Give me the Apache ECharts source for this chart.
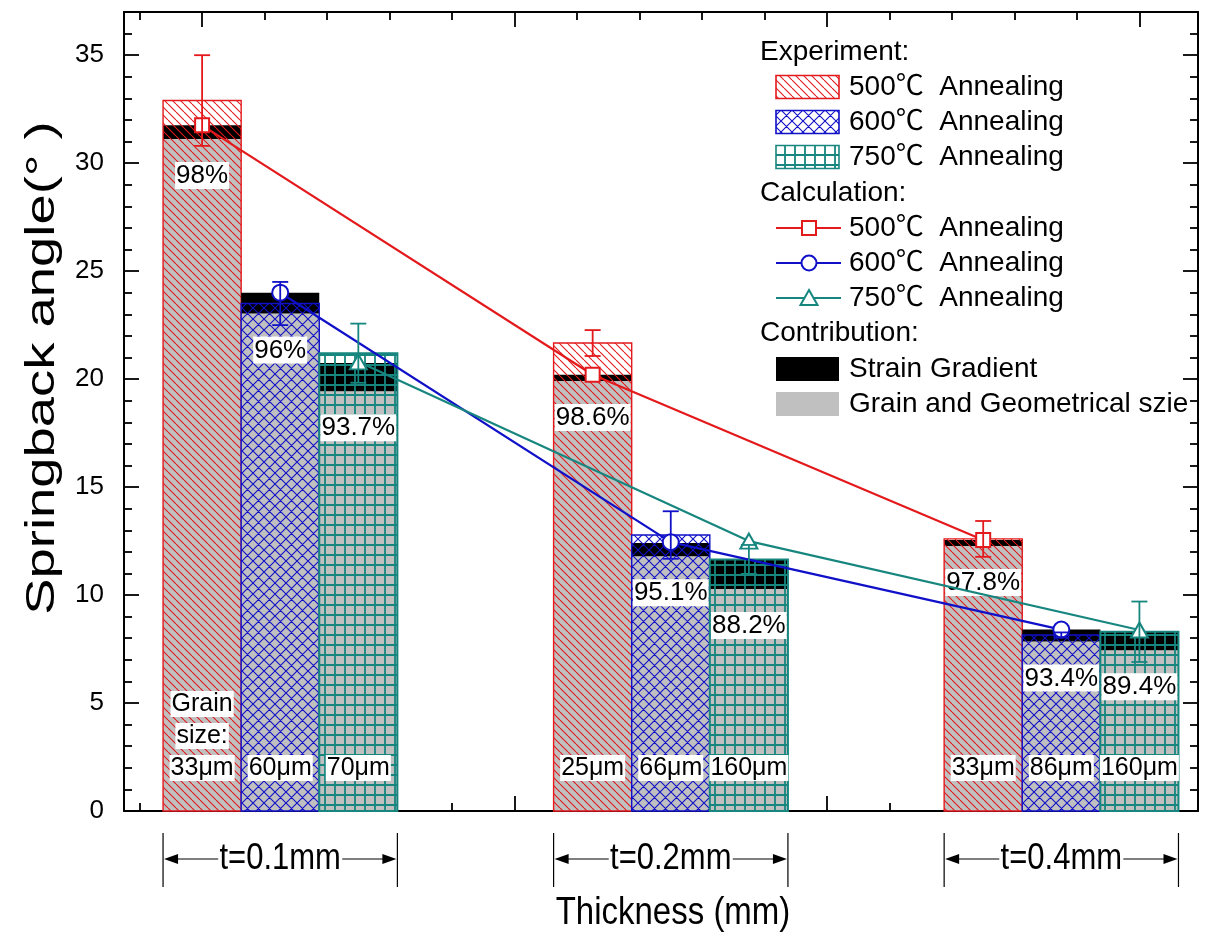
<!DOCTYPE html>
<html>
<head>
<meta charset="utf-8">
<script src="https://cdn.jsdelivr.net/npm/echarts@6/dist/echarts.min.js"></script>
<style>
  html, body { margin: 0; padding: 0; background: #fff; }
  #chart { width: 1205px; height: 939px; }
</style>
</head>
<body>
<div id="chart"></div>
<script>
// --- data ---
var temps = ['500', '600', '750'];
var thickness = ['t=0.1mm', 't=0.2mm', 't=0.4mm'];
var groupX = [1, 6, 11];                       // centre of each thickness group (x units = bar widths)
var barX = { '500': [0, 5, 10], '600': [1, 6, 11], '750': [2, 7, 12] };

// experiment: mean and error
var expMean = { '500': [32.9, 21.67, 12.6], '600': [23.5, 12.78, 8.15], '750': [21.2, 11.65, 8.3] };
var expErr  = { '500': [2.1, 0.6, 0.83],    '600': [1.0, 1.1, 0.12],    '750': [1.37, 0.67, 1.4] };
// calculated total (top of black part) and share of grain/geometrical size
var calcTotal = { '500': [31.75, 20.2, 12.55], '600': [24.0, 12.41, 8.4], '750': [20.75, 11.65, 8.33] };
var grainShare = { '500': [98, 98.6, 97.8], '600': [96, 95.1, 93.4], '750': [93.7, 88.2, 89.4] };
// calculation curves (markers)
var calcLine = { '500': [31.75, 20.2, 12.55], '600': [24.0, 12.45, 8.4], '750': [20.8, 12.5, 8.38] };
var grainSize = { '500': ['33μm', '25μm', '33μm'], '600': ['60μm', '66μm', '86μm'], '750': ['70μm', '160μm', '160μm'] };

var yTickLabels = [0, 5, 10, 15, 20, 25, 30, 35];

var colors = { '500': '#e3191c', '600': '#1010c8', '750': '#17867f' };
var hatchKind = { '500': 'diag', '600': 'cross', '750': 'grid' };
var symbols = { '500': 'rect', '600': 'circle', '750': 'triangle' };
var symbolSizes = { '500': 14, '600': 16, '750': [17, 15] };

var FONT = "'Liberation Sans', Arial, 'Noto Sans CJK SC', sans-serif";

function makeHatch(kind, color) {
  var s = kind === 'diag' ? 8 : kind === 'cross' ? 11 : 10;
  var c = document.createElement('canvas');
  c.width = s; c.height = s;
  var g = c.getContext('2d');
  g.strokeStyle = color;
  g.lineWidth = kind === 'grid' ? 1.8 : 1.1;
  g.beginPath();
  if (kind === 'grid') {
    g.moveTo(s / 2, 0); g.lineTo(s / 2, s);
    g.moveTo(0, s / 2); g.lineTo(s, s / 2);
  } else {
    for (var k = -1; k <= 1; k++) {
      g.moveTo(k * s, 0); g.lineTo(k * s + s, s);
      if (kind === 'cross') { g.moveTo(k * s, s); g.lineTo(k * s + s, 0); }
    }
  }
  g.stroke();
  return { image: c, repeat: 'repeat' };
}
var patterns = {};
temps.forEach(function (t) { patterns[t] = makeHatch(hatchKind[t], colors[t]); });

function rangeTicks(from, to, step, skip) {
  var out = [];
  for (var i = 0; from + i * step <= to + 1e-9; i++) {
    var v = +(from + i * step).toFixed(4);
    if (skip.indexOf(v) < 0) out.push(v);
  }
  return out;
}
var xMajor = [0, 4, 8, 12];
var xMinor = rangeTicks(-0.8, 12.75, 0.8, xMajor);
var yMinor = rangeTicks(1, 36, 1, yTickLabels);

var chart = echarts.init(document.getElementById('chart'));

function xAxisDef(pos, ticks, len, withLine) {
  return {
    type: 'value', position: pos, min: -1, max: 12.75,
    axisLine: { show: withLine, onZero: false, lineStyle: { color: '#000', width: 2 } },
    axisTick: { show: true, inside: true, length: len, customValues: ticks, lineStyle: { color: '#000', width: 1.8 } },
    axisLabel: { show: false },
    splitLine: { show: false }
  };
}
function yAxisDef(pos, ticks, len, withLine, extra) {
  var a = {
    type: 'value', position: pos, min: 0, max: 37,
    axisLine: { show: withLine, onZero: false, lineStyle: { color: '#000', width: 2 } },
    axisTick: { show: true, inside: true, length: len, customValues: ticks, lineStyle: { color: '#000', width: 1.8 } },
    axisLabel: { show: false },
    splitLine: { show: false }
  };
  return Object.assign(a, extra || {});
}

function barItem(t) {
  return function (params, api) {
    var x = api.value(0), exp = api.value(1), calc = api.value(2), share = api.value(3);
    var grain = calc * share / 100;
    var left = api.coord([x - 0.5, 0]);
    var w = api.coord([x + 0.5, 0])[0] - left[0];
    var y0 = left[1];
    var yExp = api.coord([x, exp])[1];
    var yCalc = api.coord([x, calc])[1];
    var yGrain = api.coord([x, grain])[1];
    var cx = left[0] + w / 2;
    var i = params.dataIndex;
    var lw = t === '750' ? 2 : 1.4;
    var sizeText = (t === '500' && i === 0) ? '{a|Grain}\n{a|size:}\n{a|' + grainSize[t][i] + '}' : '{a|' + grainSize[t][i] + '}';
    return {
      type: 'group',
      children: [
        { type: 'rect', shape: { x: left[0], y: yExp, width: w, height: y0 - yExp }, style: { fill: '#fff' } },
        { type: 'rect', shape: { x: left[0], y: yGrain, width: w, height: y0 - yGrain }, style: { fill: '#c0c0c0' } },
        { type: 'rect', shape: { x: left[0], y: yCalc, width: w, height: yGrain - yCalc }, style: { fill: '#000' } },
        { type: 'rect', shape: { x: left[0], y: yExp, width: w, height: y0 - yExp },
          style: { fill: patterns[t], stroke: colors[t], lineWidth: lw } },
        { type: 'text', x: cx, y: yGrain + 23,
          style: { text: share + '%', font: '26px ' + FONT, fill: '#000', align: 'center', verticalAlign: 'top',
                   backgroundColor: '#fff', padding: [1, 1, 0, 1] } },
        { type: 'text', x: cx, y: y0 - 27,
          style: { text: sizeText, fill: '#000', align: 'center', verticalAlign: 'bottom',
                   rich: { a: { font: '25px ' + FONT, backgroundColor: '#fff', padding: [1, 1, 0, 1], lineHeight: 32 } } } }
      ]
    };
  };
}

function errItem(t) {
  return function (params, api) {
    var x = api.value(0), m = api.value(1), e = api.value(2);
    var hi = api.coord([x, m + e]), lo = api.coord([x, m - e]);
    var st = { stroke: colors[t], lineWidth: 1.8 };
    return {
      type: 'group',
      children: [
        { type: 'line', shape: { x1: hi[0], y1: hi[1], x2: lo[0], y2: lo[1] }, style: st },
        { type: 'line', shape: { x1: hi[0] - 8, y1: hi[1], x2: hi[0] + 8, y2: hi[1] }, style: st },
        { type: 'line', shape: { x1: lo[0] - 8, y1: lo[1], x2: lo[0] + 8, y2: lo[1] }, style: st }
      ]
    };
  };
}

function thickItem(params, api) {
  var cx = api.value(0);
  var l = api.coord([cx - 1.5, 0]), r = api.coord([cx + 1.5, 0]);
  var base = l[1];
  var ym = base + 48;
  var c = (l[0] + r[0]) / 2;
  var half = 62;
  var st = { stroke: '#000', lineWidth: 1.2 };
  return {
    type: 'group',
    children: [
      { type: 'line', shape: { x1: l[0], y1: base + 22, x2: l[0], y2: base + 76 }, style: st },
      { type: 'line', shape: { x1: r[0], y1: base + 22, x2: r[0], y2: base + 76 }, style: st },
      { type: 'line', shape: { x1: l[0] + 12, y1: ym, x2: c - half, y2: ym }, style: st },
      { type: 'line', shape: { x1: c + half, y1: ym, x2: r[0] - 12, y2: ym }, style: st },
      { type: 'polygon', shape: { points: [[l[0] + 1, ym], [l[0] + 15, ym - 5], [l[0] + 15, ym + 5]] }, style: { fill: '#000' } },
      { type: 'polygon', shape: { points: [[r[0] - 1, ym], [r[0] - 15, ym - 5], [r[0] - 15, ym + 5]] }, style: { fill: '#000' } },
      { type: 'text', x: c, y: ym, scaleY: 1.2,
        style: { text: thickness[params.dataIndex], font: '31px ' + FONT, fill: '#000', align: 'center', verticalAlign: 'middle' } }
    ]
  };
}

var series = [];
temps.forEach(function (t) {
  series.push({
    name: t + ' exp', type: 'custom', z: 2, renderItem: barItem(t),
    data: barX[t].map(function (x, i) { return [x, expMean[t][i], calcTotal[t][i], grainShare[t][i]]; })
  });
});
temps.forEach(function (t) {
  series.push({
    name: t + ' calc', type: 'line', z: 4,
    data: barX[t].map(function (x, i) { return [x, calcLine[t][i]]; }),
    symbol: symbols[t], symbolSize: symbolSizes[t], showAllSymbol: true,
    lineStyle: { color: colors[t], width: 2.2 },
    itemStyle: { color: '#fff', borderColor: colors[t], borderWidth: 2 }
  });
});
temps.forEach(function (t) {
  series.push({
    name: t + ' err', type: 'custom', z: 5, renderItem: errItem(t),
    data: barX[t].map(function (x, i) { return [x, expMean[t][i], expErr[t][i]]; })
  });
});
series.push({
  name: 'thickness', type: 'custom', z: 3, clip: false, renderItem: thickItem,
  data: groupX.map(function (x) { return [x, 0]; })
});

// --- legend and axis titles (graphic) ---
var legend = [];
var LX = 776, TX = 849;
function legText(x, y, s) {
  return { type: 'text', x: x, y: y, style: { text: s, font: '28px ' + FONT, fill: '#000', verticalAlign: 'middle' } };
}
legend.push(legText(760, 52, 'Experiment:'));
temps.forEach(function (t, i) {
  var y = 87 + i * 35;
  legend.push({ type: 'rect', shape: { x: LX, y: y - 11.5, width: 63, height: 23 }, style: { fill: patterns[t], stroke: colors[t], lineWidth: 1.6 } });
  legend.push(legText(TX, y, t + '℃  Annealing'));
});
legend.push(legText(760, 193, 'Calculation:'));
temps.forEach(function (t, i) {
  var y = 228 + i * 35;
  legend.push({ type: 'line', shape: { x1: LX, y1: y, x2: LX + 65, y2: y }, style: { stroke: colors[t], lineWidth: 2.2 } });
  var sh;
  if (t === '500') sh = { type: 'rect', shape: { x: LX + 26, y: y - 7, width: 14, height: 14 } };
  else if (t === '600') sh = { type: 'circle', shape: { cx: LX + 33, cy: y, r: 7.5 } };
  else sh = { type: 'polygon', shape: { points: [[LX + 33, y - 8], [LX + 41.5, y + 7], [LX + 24.5, y + 7]] } };
  sh.style = { fill: '#fff', stroke: colors[t], lineWidth: 2 };
  legend.push(sh);
  legend.push(legText(TX, y, t + '℃  Annealing'));
});
legend.push(legText(760, 333, 'Contribution:'));
legend.push({ type: 'rect', shape: { x: LX, y: 357, width: 63, height: 24 }, style: { fill: '#000' } });
legend.push(legText(TX, 369, 'Strain Gradient'));
legend.push({ type: 'rect', shape: { x: LX, y: 392, width: 63, height: 24 }, style: { fill: '#c0c0c0' } });
legend.push(legText(TX, 404, 'Grain and Geometrical szie'));

legend.push({ type: 'text', x: 43, y: 368, rotation: Math.PI / 2, scaleX: 1.36,
  style: { text: 'Springback angle(° )', font: '40px ' + FONT, fill: '#000', align: 'center', verticalAlign: 'middle' } });
legend.push({ type: 'text', x: 673, y: 913, scaleY: 1.2,
  style: { text: 'Thickness (mm)', font: '33px ' + FONT, fill: '#000', align: 'center', verticalAlign: 'middle' } });

chart.setOption({
  animation: false,
  backgroundColor: '#fff',
  textStyle: { fontFamily: FONT },
  grid: { left: 124, right: 7, top: 12, bottom: 128 },
  xAxis: [
    xAxisDef('bottom', xMajor, 15, true),
    xAxisDef('bottom', xMinor, 8, false),
    xAxisDef('top', xMajor, 15, true),
    xAxisDef('top', xMinor, 8, false)
  ],
  yAxis: [
    yAxisDef('left', yTickLabels, 15, true, {
      axisLabel: { show: true, customValues: yTickLabels, fontSize: 26, color: '#000', margin: 20, fontFamily: FONT }
    }),
    yAxisDef('left', yMinor, 8, false),
    yAxisDef('right', yTickLabels, 15, true),
    yAxisDef('right', yMinor, 8, false)
  ],
  series: series,
  graphic: legend
});
window.addEventListener('resize', function () { chart.resize(); });
</script>
</body>
</html>
